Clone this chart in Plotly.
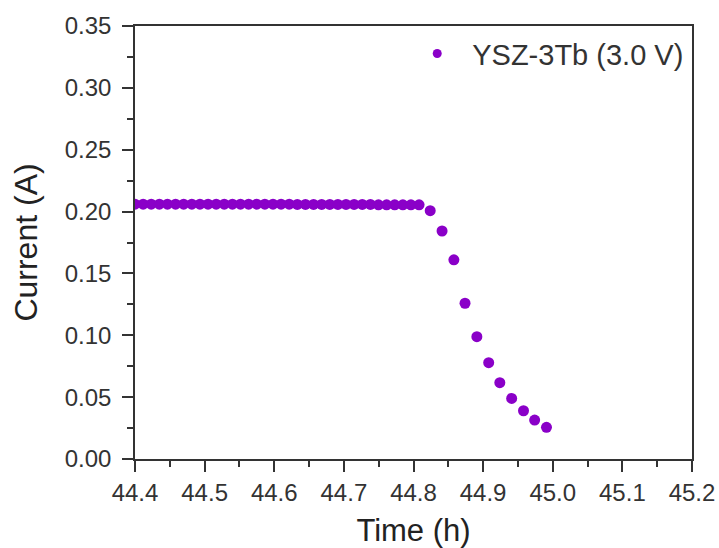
import numpy as np
import plotly.graph_objects as go

# Plateau: steady current before the drop
plateau_time = list(np.round(np.linspace(44.400, 44.808, 36), 4))
plateau_current = [0.206] * 20 + [0.2058] * 10 + [0.2055] * 6

# Decay segment (one reading per minute)
decay_time = [44.824, 44.841, 44.858, 44.874, 44.891, 44.908, 44.924, 44.941, 44.958, 44.974, 44.991]
decay_current = [0.2007, 0.1843, 0.161, 0.1259, 0.0989, 0.0779, 0.0617, 0.049, 0.039, 0.0315, 0.0256]

time_h = plateau_time + decay_time
current_a = plateau_current + decay_current

series_name = "YSZ-3Tb (3.0 V)"
x_ticks = [44.4, 44.5, 44.6, 44.7, 44.8, 44.9, 45.0, 45.1, 45.2]
y_ticks = [0.00, 0.05, 0.10, 0.15, 0.20, 0.25, 0.30, 0.35]

purple = "#8A00C8"
axis_color = "#333333"
font_family = "Liberation Sans, Arial, sans-serif"

fig = go.Figure()
fig.add_trace(go.Scatter(
    x=time_h, y=current_a, mode="markers",
    name=series_name, showlegend=False,
    marker=dict(color=purple, size=11, line=dict(width=0)),
))
# Legend entry with a smaller symbol
fig.add_trace(go.Scatter(
    x=[None], y=[None], mode="markers", name=series_name,
    marker=dict(color=purple, size=9, line=dict(width=0)),
))

axis_common = dict(
    showgrid=False, zeroline=False, automargin=False,
    showline=True, linecolor=axis_color, linewidth=1.5, mirror=True,
    ticks="outside", ticklen=11, tickwidth=1.5, tickcolor=axis_color,
    tickfont=dict(family=font_family, size=24, color="#333333"),
)

fig.update_xaxes(
    range=[44.4, 45.2], tickvals=x_ticks,
    ticktext=[f"{v:.1f}" for v in x_ticks],
    minor=dict(ticks="outside", ticklen=6, tickwidth=1.5, tickcolor=axis_color, dtick=0.05),
    title=dict(text="Time (h)", font=dict(family=font_family, size=31, color="#222222"), standoff=16),
    **axis_common,
)
fig.update_yaxes(
    range=[0, 0.35], tickvals=y_ticks,
    ticktext=[f"{v:.2f}" for v in y_ticks],
    ticklabelstandoff=6,
    minor=dict(ticks="outside", ticklen=6, tickwidth=1.5, tickcolor=axis_color, dtick=0.025),
    title=dict(text="Current (A)", font=dict(family=font_family, size=32, color="#222222"), standoff=18),
    **axis_common,
)

fig.update_layout(
    width=719, height=548,
    margin=dict(l=135, r=27, t=26, b=89),
    plot_bgcolor="white", paper_bgcolor="white",
    showlegend=True,
    legend=dict(
        x=0.995, y=0.995, xanchor="right", yanchor="top",
        bgcolor="rgba(0,0,0,0)", itemwidth=60,
        font=dict(family=font_family, size=29, color="#333333"),
    ),
)

fig.write_html("out.html")
